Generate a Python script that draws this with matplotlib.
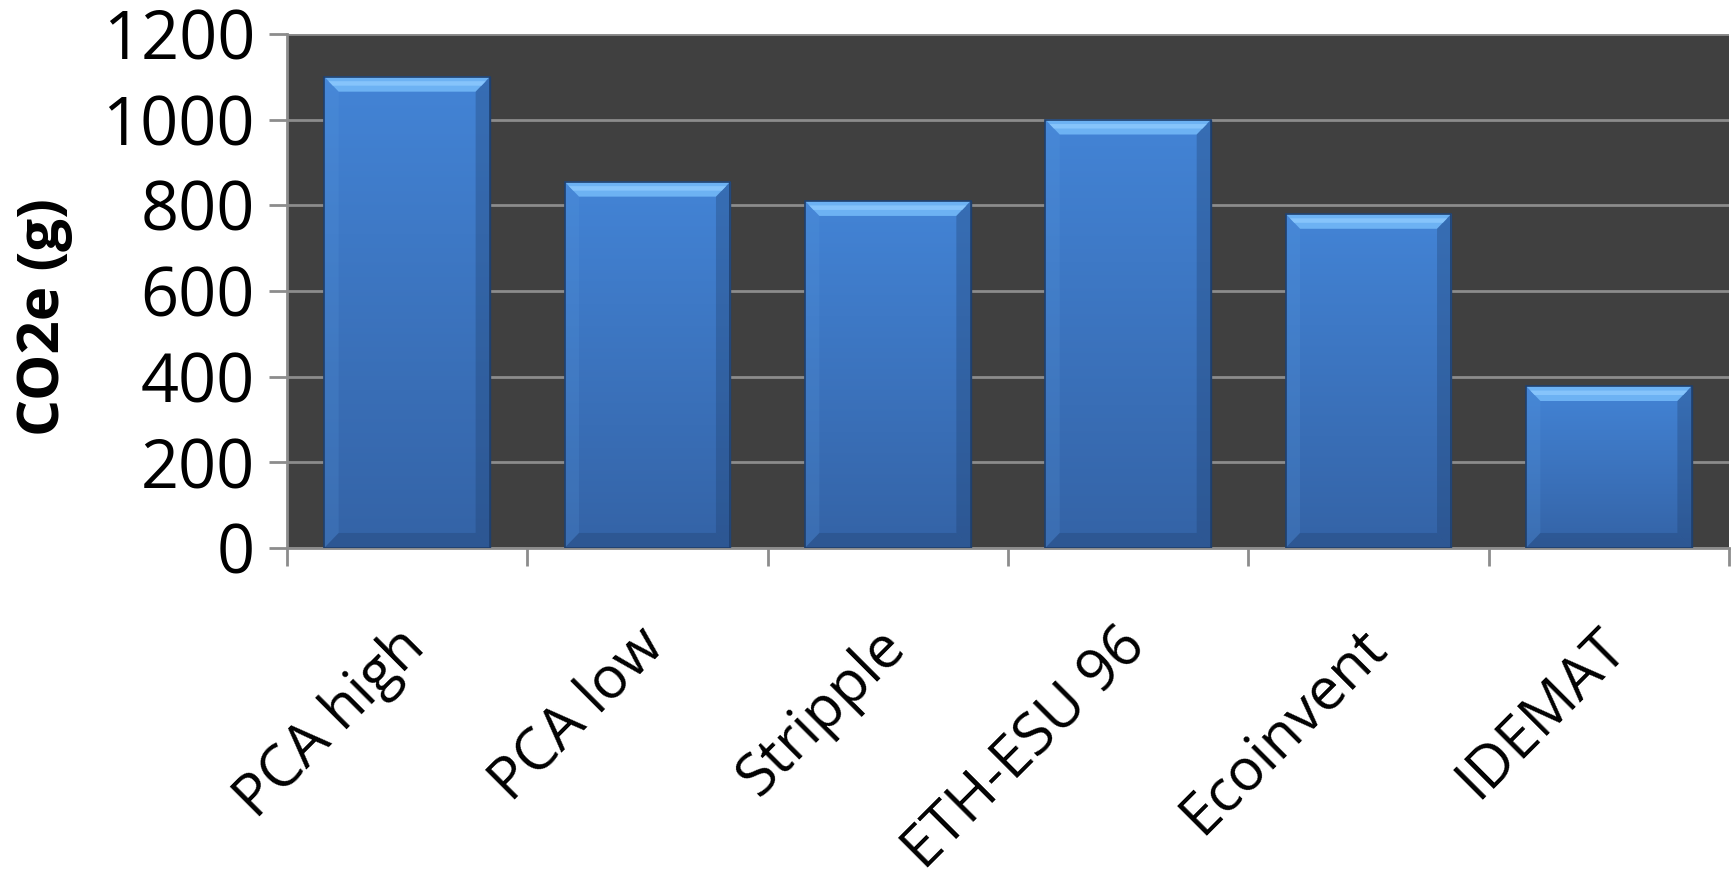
import numpy as np
import matplotlib.pyplot as plt
from matplotlib.patches import Polygon
from matplotlib.colors import LinearSegmentedColormap
from matplotlib.transforms import ScaledTranslation

# data
categories = ['PCA high', 'PCA low', 'Stripple', 'ETH-ESU 96', 'Ecoinvent', 'IDEMAT']
co2e = [1100, 855, 810, 1000, 780, 378]
yticks = [0, 200, 400, 600, 800, 1000, 1200]

plt.rcParams['font.family'] = ['Open Sans', 'DejaVu Sans']

fig = plt.figure(figsize=(17.36, 8.81), dpi=100)
ax = fig.add_axes([0.1653, 0.378, 0.8307, 0.5836])
ax.set_facecolor('#404040')

x = np.arange(len(categories))
w = 0.69
bars = ax.bar(x, co2e, width=w, color='#3d78c8', edgecolor='#1f406e',
              linewidth=1.0, zorder=3)

# vertical gradient inside each bar + bevel on top
body = LinearSegmentedColormap.from_list('body', ['#3463a6', '#4384d6'])
grad = np.linspace(0, 1, 256).reshape(-1, 1)
dx = 0.06   # bevel width, category units
dy = 35     # bevel height, data units
for b, xi, h in zip(bars, x, co2e):
    x0, x1 = xi - w / 2, xi + w / 2
    im = ax.imshow(grad, extent=[x0, x1, 0, h], origin='lower', cmap=body,
                   aspect='auto', zorder=3.1)
    im.set_clip_path(b)
    # top bevel
    ax.add_patch(Polygon([(x0, h), (x1, h), (x1 - dx, h - dy), (x0 + dx, h - dy)],
                         closed=True, facecolor='#6db2f3', edgecolor='none', zorder=3.2))
    ax.add_patch(Polygon([(x0 + dx * 0.3, h - dy * 0.3), (x1 - dx * 0.3, h - dy * 0.3),
                          (x1 - dx * 0.6, h - dy * 0.6), (x0 + dx * 0.6, h - dy * 0.6)],
                         closed=True, facecolor='#86c4fb', edgecolor='none', zorder=3.25))
    # side and bottom bevels
    ax.add_patch(Polygon([(x0, 0), (x0, h), (x0 + dx, h - dy), (x0 + dx, dy)],
                         closed=True, facecolor='#5a9be0', alpha=0.2, edgecolor='none', zorder=3.2))
    ax.add_patch(Polygon([(x1, 0), (x1, h), (x1 - dx, h - dy), (x1 - dx, dy)],
                         closed=True, facecolor='#1d3c68', alpha=0.3, edgecolor='none', zorder=3.2))
    ax.add_patch(Polygon([(x0, 0), (x1, 0), (x1 - dx, dy), (x0 + dx, dy)],
                         closed=True, facecolor='#1d3c68', alpha=0.3, edgecolor='none', zorder=3.2))
    ax.add_patch(Polygon([(x0, 0), (x0, h), (x1, h), (x1, 0)], closed=True,
                         facecolor='none', edgecolor='#1f406e', linewidth=1.2, zorder=3.3))

ax.set_xlim(-0.5, len(categories) - 0.5)
ax.set_ylim(0, 1200)
ax.set_yticks(yticks)
ax.set_yticklabels([str(t) for t in yticks])

ax.yaxis.grid(True, color='#8c8c8c', linewidth=2)
ax.set_axisbelow(True)

for s in ['top', 'right']:
    ax.spines[s].set_visible(False)
for s in ['left', 'bottom']:
    ax.spines[s].set_color('#8c8c8c')
    ax.spines[s].set_linewidth(2)

# ticks at category boundaries, labels at centres
ax.set_xticks(np.arange(len(categories) + 1) - 0.5)
ax.set_xticklabels([])
ax.set_xticks(x, minor=True)
ax.set_xticklabels(categories, minor=True, rotation=45, ha='right',
                   rotation_mode='anchor', fontsize=42)
ax.tick_params(axis='x', which='minor', length=0, pad=50)
ax.tick_params(axis='x', which='major', length=13, width=2, color='#8c8c8c')
ax.tick_params(axis='y', length=13, width=2, color='#8c8c8c', labelsize=48, pad=10)

shift = ScaledTranslation(-0.12, 0, fig.dpi_scale_trans)
for lbl in ax.get_xticklabels(minor=True):
    lbl.set_transform(lbl.get_transform() + shift)

fig.text(0.0253, 0.64, 'CO2e (g)', rotation=90, fontsize=42, fontweight='bold',
         ha='center', va='center')

fig.savefig('out.png', dpi=100)
